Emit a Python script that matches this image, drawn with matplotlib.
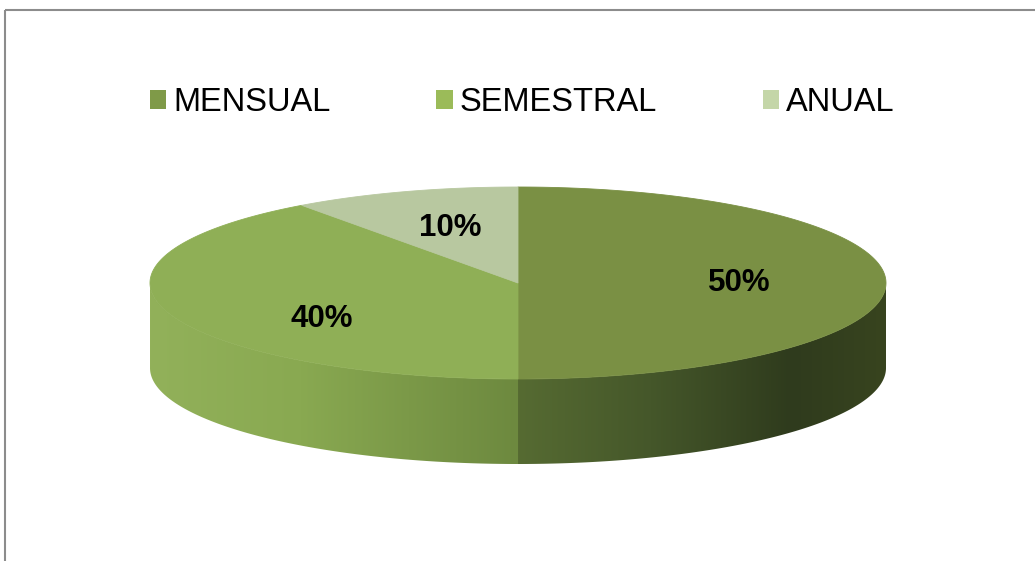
import numpy as np
import matplotlib.pyplot as plt
from matplotlib.patches import Polygon, Patch, Rectangle
from matplotlib.colors import to_rgb

# datos del gráfico
categorias = ['MENSUAL', 'SEMESTRAL', 'ANUAL']
porcentajes = [50, 40, 10]
colores_top = ['#7A9044', '#8FAF56', '#B8C8A0']
colores_leyenda = ['#7F9A48', '#9BBB59', '#C4D6A8']

plt.rcParams['font.family'] = ['Liberation Sans', 'DejaVu Sans']

W, H = 1035, 561
fig = plt.figure(figsize=(W / 100, H / 100), dpi=100)
ax = fig.add_axes([0, 0, 1, 1])
ax.set_xlim(0, W)
ax.set_ylim(H, 0)
ax.axis('off')

# marco del área del gráfico
ax.add_patch(Rectangle((5, 10), W + 20, H + 20, fill=False,
                       edgecolor='#8c8c8c', lw=1.5))

# geometría del pastel 3D (en píxeles)
cx, cy = 518, 283
rx, ry = 368, 96
prof = 85


def elipse(t):
    t = np.radians(t)
    return cx + rx * np.cos(t), cy - ry * np.sin(t)


# lateral frontal con degradado horizontal
t = np.linspace(180, 360, 300)
xs, ys = elipse(t)
lado = np.column_stack([np.r_[xs, xs[::-1]], np.r_[ys, ys[::-1] + prof]])
poly_lado = Polygon(lado, closed=True, facecolor='none', edgecolor='none')
ax.add_patch(poly_lado)

paradas_x = [cx - rx, 300, cx - 1, cx, 650, 790, cx + rx]
paradas_c = ['#92B15A', '#89A951', '#6D893F', '#566B32', '#45572A', '#2F3B1D', '#38441F']
cols = np.arange(cx - rx, cx + rx + 1)
rgb = np.array([to_rgb(c) for c in paradas_c])
img = np.stack([np.interp(cols, paradas_x, rgb[:, k]) for k in range(3)], axis=-1)
img = np.repeat(img[None, :, :], 2, axis=0)
im = ax.imshow(img, extent=(cx - rx, cx + rx + 1, cy + prof + ry + 2, cy - 2),
               aspect='auto', interpolation='nearest', zorder=1)
im.set_clip_path(poly_lado)
ax.set_xlim(0, W)
ax.set_ylim(H, 0)

# sectores de la cara superior (inicio a las 12, sentido horario)
inicio = 90
acum = inicio
etiquetas_r = [0.6, 0.56, 0.6]
etiquetas_dy = [0, 19, 0]
for cat, val, col, r, dy in zip(categorias, porcentajes, colores_top, etiquetas_r, etiquetas_dy):
    a0 = acum
    a1 = acum - 360 * val / sum(porcentajes)
    tt = np.linspace(a0, a1, 200)
    ex, ey = elipse(tt)
    pts = np.column_stack([np.r_[cx, ex], np.r_[cy, ey]])
    ax.add_patch(Polygon(pts, closed=True, facecolor=col, edgecolor=col,
                         lw=0.6, zorder=2))
    am = np.radians((a0 + a1) / 2)
    lx = cx + rx * r * np.cos(am)
    ly = cy - ry * r * np.sin(am) + dy
    ax.text(lx, ly, f'{val}%', ha='center', va='center', fontsize=22.5,
            fontweight='bold', color='black', zorder=3)
    acum = a1

# leyenda superior
handles = [Patch(facecolor=c, edgecolor='none') for c in colores_leyenda]
fig.legend(handles, categorias, loc='center', bbox_to_anchor=(0.5045, 0.817),
           ncol=3, frameon=False, fontsize=23.5, handlelength=0.5,
           handleheight=0.5, handletextpad=0.2, columnspacing=3.25)

fig.savefig('out.png', dpi=100)
